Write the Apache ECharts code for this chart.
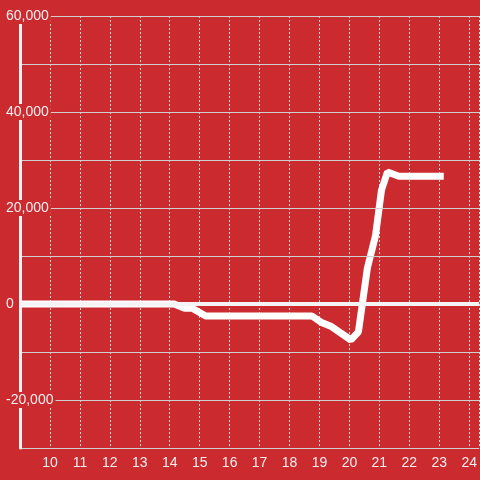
<!DOCTYPE html>
<html>
<head>
<meta charset="utf-8">
<script src="https://cdn.jsdelivr.net/npm/echarts@6/dist/echarts.min.js"></script>
<style>
html, body { margin: 0; padding: 0; background: #cb2a2f; }
#main { width: 480px; height: 480px; }
</style>
</head>
<body>
<div id="main"></div>
<script>
// hours of day (x) and value (y)
var hours = [9, 14.15, 14.5, 14.75, 15.2, 18.75, 19.05, 19.4, 20.05, 20.3, 20.6, 20.87, 21.07, 21.27, 21.65, 23.15];
var values = [0, 0, -900, -900, -2500, -2500, -3800, -4700, -7500, -5800, 7500, 14200, 23700, 27500, 26600, 26600];

var bg = '#cb2a2f';
var dom = document.getElementById('main');
var myChart = echarts.init(dom);

var seriesData = [];
for (var i = 0; i < hours.length; i++) {
    seriesData.push([hours[i], values[i]]);
}

var option = {
    backgroundColor: bg,
    animation: false,
    grid: { left: 20, right: 0, top: 16, bottom: 32 },
    xAxis: {
        type: 'value',
        min: 9,
        max: 9 + 460 / 30,
        interval: 1,
        axisLine: { show: false },
        axisTick: { show: false },
        axisLabel: {
            color: '#f0f0f0',
            fontSize: 14,
            fontFamily: 'Liberation Sans, Arial, sans-serif',
            margin: 8,
            showMinLabel: false,
            showMaxLabel: false
        },
        splitLine: {
            show: true,
            lineStyle: { color: '#ddd', width: 1, type: [2, 2] }
        }
    },
    yAxis: {
        type: 'value',
        min: -30000,
        max: 60000,
        interval: 10000,
        axisLine: { show: true, onZero: false, lineStyle: { color: '#f4f4f4', width: 3 } },
        axisTick: { show: false },
        axisLabel: {
            color: '#f0f0f0',
            fontSize: 14,
            fontFamily: 'Liberation Sans, Arial, sans-serif',
            align: 'left',
            margin: 14,
            backgroundColor: bg,
            padding: [1, 2, 1, 0],
            formatter: function (v) {
                if (v % 20000 !== 0) return '';
                return v.toLocaleString('en-US');
            }
        },
        splitLine: {
            show: true,
            lineStyle: { color: '#cfcfcf', width: 1 }
        },
        z: 5
    },
    series: [
        {
            type: 'line',
            data: seriesData,
            showSymbol: false,
            symbol: 'none',
            lineStyle: { color: '#fff', width: 7 },
            z: 3,
            markLine: {
                silent: true,
                symbol: 'none',
                label: { show: false },
                lineStyle: { color: '#f4f4f4', width: 4, type: 'solid' },
                data: [{ yAxis: 0 }]
            }
        }
    ]
};

myChart.setOption(option, true);
</script>
</body>
</html>
